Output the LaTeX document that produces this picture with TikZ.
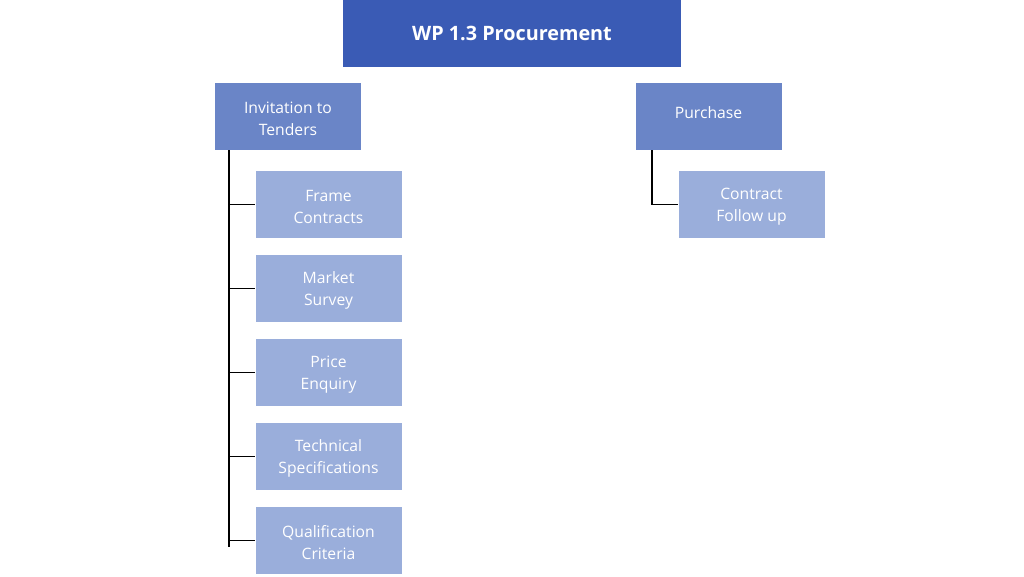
\documentclass[tikz,border=0pt]{standalone}
\usepackage{fontspec}
\setmainfont{Open Sans}
\definecolor{topblue}{RGB}{58,91,181}
\definecolor{midblue}{RGB}{106,133,199}
\definecolor{lightblue}{RGB}{154,174,219}
\newcommand\twodown{\rule{0pt}{16pt}}
\newcommand\oneup{\rule[-7pt]{0pt}{0pt}}
\begin{document}
\begin{tikzpicture}[x=1pt,y=-1pt,
  box/.style={draw=white,line width=0.6pt,minimum width=147pt,minimum height=68pt,inner sep=0pt,
    align=center,text=white,font=\fontsize{15.7}{21.5}\selectfont},
  topbox/.style={box,fill=topblue,minimum width=339pt,font=\fontsize{19.8}{23}\selectfont\bfseries},
  midbox/.style={box,fill=midblue},
  leafbox/.style={box,fill=lightblue},
  link/.style={draw=black,line width=1.5pt}]
\useasboundingbox (0,0) rectangle (1024,576);
\node[topbox] (wp) at (512,33.5) {WP 1.3 Procurement};
\node[midbox] (itt) at (288,116.5) {\twodown Invitation to\\Tenders};
\node[midbox] (pur) at (708.5,116.5) {Purchase\oneup};
\node[leafbox] (fc) at (328.5,204.5) {\twodown Frame\\Contracts};
\node[leafbox] (ms) at (328.5,288.5) {\twodown Market\\Survey};
\node[leafbox] (pe) at (328.5,372.5) {\twodown Price\\Enquiry};
\node[leafbox] (ts) at (328.5,456.5) {\twodown Technical\\Specifications};
\node[leafbox] (qc) at (328.5,540.5) {\twodown Qualification\\Criteria};
\node[leafbox] (cf) at (751.5,204.5) {\twodown Contract\\Follow up};
\coordinate (trunk) at (229,150);
\coordinate (trunkend) at (229,547);
\draw[link] (trunk) -- (trunkend);
\foreach \n in {fc,ms,pe,ts,qc}{
  \draw[link] (\n.west) -- (trunk |- \n.west);
}
\coordinate (rtrunk) at (652,150);
\draw[link] (rtrunk) |- (cf.west);
\end{tikzpicture}
\end{document}
